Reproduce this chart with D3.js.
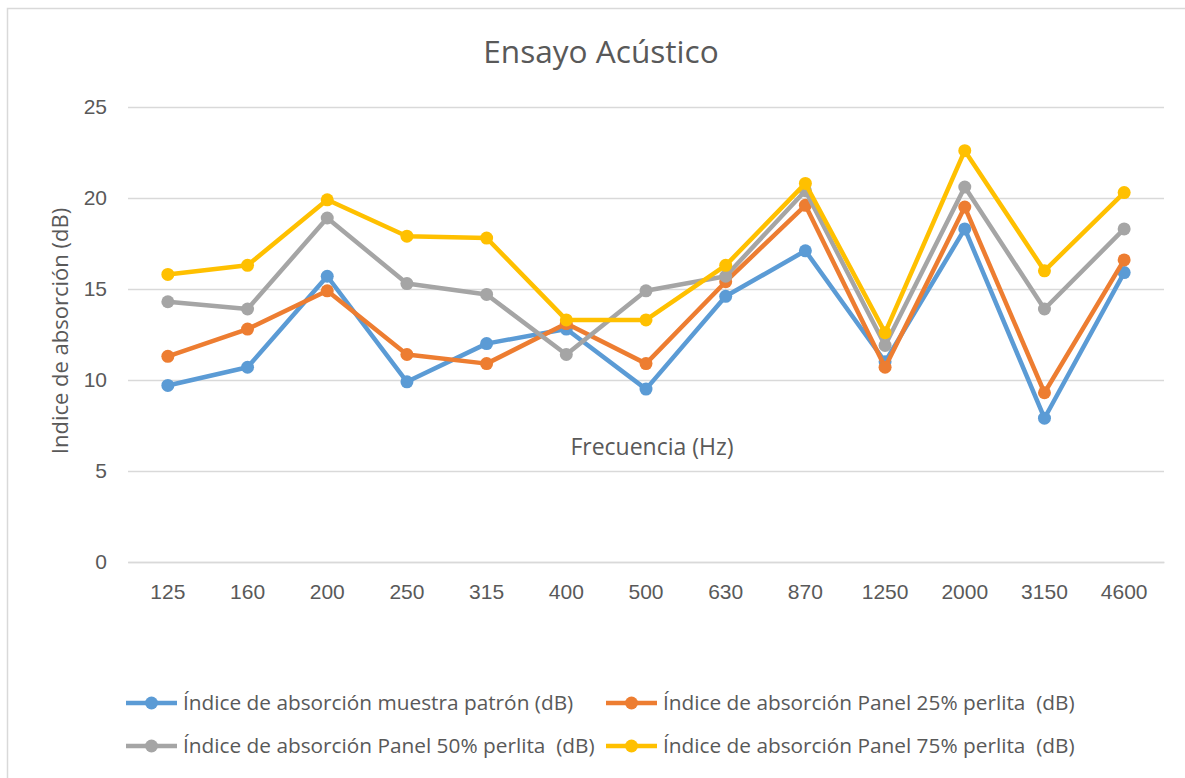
<!DOCTYPE html>
<html>
<head>
<meta charset="utf-8">
<script src="https://cdn.jsdelivr.net/npm/d3@7"></script>
<style>
    body { margin: 0; background: #ffffff; }
    svg { font-family: "Open Sans", sans-serif; }
    text { fill: #595959; white-space: pre; }
</style>
</head>
<body>
<svg></svg>
<script>
var frecuencias = ["125", "160", "200", "250", "315", "400", "500", "630", "870", "1250", "2000", "3150", "4600"];
var patron = [9.7, 10.7, 15.7, 9.9, 12.0, 12.8, 9.5, 14.6, 17.1, 11.0, 18.3, 7.9, 15.9];
var panel25 = [11.3, 12.8, 14.9, 11.4, 10.9, 13.1, 10.9, 15.4, 19.6, 10.7, 19.5, 9.3, 16.6];
var panel50 = [14.3, 13.9, 18.9, 15.3, 14.7, 11.4, 14.9, 15.7, 20.4, 11.9, 20.6, 13.9, 18.3];
var panel75 = [15.8, 16.3, 19.9, 17.9, 17.8, 13.3, 13.3, 16.3, 20.8, 12.6, 22.6, 16.0, 20.3];
var nombres = [
    "Índice de absorción muestra patrón (dB)",
    "Índice de absorción Panel 25% perlita  (dB)",
    "Índice de absorción Panel 50% perlita  (dB)",
    "Índice de absorción Panel 75% perlita  (dB)"
];
var colores = ["#5B9BD5", "#ED7D31", "#A5A5A5", "#FFC000"];
var yTicks = [0, 5, 10, 15, 20, 25];

var screen = {width: 1185, height: 778};
var margins = {top: 107, right: 21, bottom: 216, left: 128};

var svg = d3.select("svg")
    .attr("width", screen.width)
    .attr("height", screen.height);

// chart border
svg.append("rect")
    .attr("x", 7.5)
    .attr("y", 8.5)
    .attr("width", screen.width + 20)
    .attr("height", screen.height + 20)
    .attr("fill", "white")
    .attr("stroke", "#d9d9d9")
    .attr("stroke-width", 1.5);

var width = screen.width - margins.left - margins.right;
var height = screen.height - margins.top - margins.bottom;

var xScale = d3.scaleBand()
    .domain(frecuencias)
    .range([0, width]);

var yScale = d3.scaleLinear()
    .domain([0, 25])
    .range([height, 0]);

var graph = svg.append("g")
    .attr("transform", "translate(" + margins.left + "," + margins.top + ")");

var yAxis = graph.append("g")
    .call(d3.axisLeft(yScale).tickValues(yTicks).tickSize(-width).tickPadding(21));
yAxis.select(".domain").remove();
yAxis.selectAll("line").attr("stroke", "#d9d9d9").attr("stroke-width", 1.3);
yAxis.selectAll("text").attr("font-size", 21).attr("fill", "#595959");

var xAxis = graph.append("g")
    .attr("transform", "translate(0," + height + ")")
    .call(d3.axisBottom(xScale).tickSize(0).tickPadding(22));
xAxis.select(".domain").attr("stroke", "#d9d9d9").attr("stroke-width", 1.3);
xAxis.selectAll("text").attr("font-size", 21).attr("fill", "#595959");

var series = [patron, panel25, panel50, panel75];

var lineGenerator = d3.line()
    .x(function(d, i) { return xScale(frecuencias[i]) + xScale.bandwidth() / 2; })
    .y(function(d) { return yScale(d); });

series.forEach(function(values, s)
{
    var g = graph.append("g");
    g.append("path")
        .datum(values)
        .attr("d", lineGenerator)
        .attr("fill", "none")
        .attr("stroke", colores[s])
        .attr("stroke-width", 4.5)
        .attr("stroke-linejoin", "round");
    g.selectAll("circle")
        .data(values)
        .enter()
        .append("circle")
        .attr("cx", function(d, i) { return xScale(frecuencias[i]) + xScale.bandwidth() / 2; })
        .attr("cy", function(d) { return yScale(d); })
        .attr("r", 6.5)
        .attr("fill", colores[s]);
});

// titles
svg.append("text")
    .attr("x", 601)
    .attr("y", 63)
    .attr("text-anchor", "middle")
    .attr("font-size", 31.6)
    .text("Ensayo Acústico");

svg.append("text")
    .attr("x", 652)
    .attr("y", 455)
    .attr("text-anchor", "middle")
    .attr("font-size", 23)
    .text("Frecuencia (Hz)");

svg.append("text")
    .attr("transform", "translate(68,331) rotate(-90)")
    .attr("text-anchor", "middle")
    .attr("font-size", 22)
    .text("Indice de absorción (dB)");

// legend
var legendPos = [[126, 703], [606, 703], [126, 746], [606, 746]];
var legend = svg.selectAll(".legend")
    .data(nombres)
    .enter()
    .append("g")
    .attr("class", "legend")
    .attr("transform", function(d, i) { return "translate(" + legendPos[i][0] + "," + legendPos[i][1] + ")"; });
legend.append("line")
    .attr("x1", 0).attr("x2", 51)
    .attr("stroke", function(d, i) { return colores[i]; })
    .attr("stroke-width", 4.5);
legend.append("circle")
    .attr("cx", 25.5)
    .attr("r", 6.5)
    .attr("fill", function(d, i) { return colores[i]; });
legend.append("text")
    .attr("x", 57)
    .attr("y", 7)
    .attr("font-size", 20.8)
    .text(function(d) { return d; });
</script>
</body>
</html>
